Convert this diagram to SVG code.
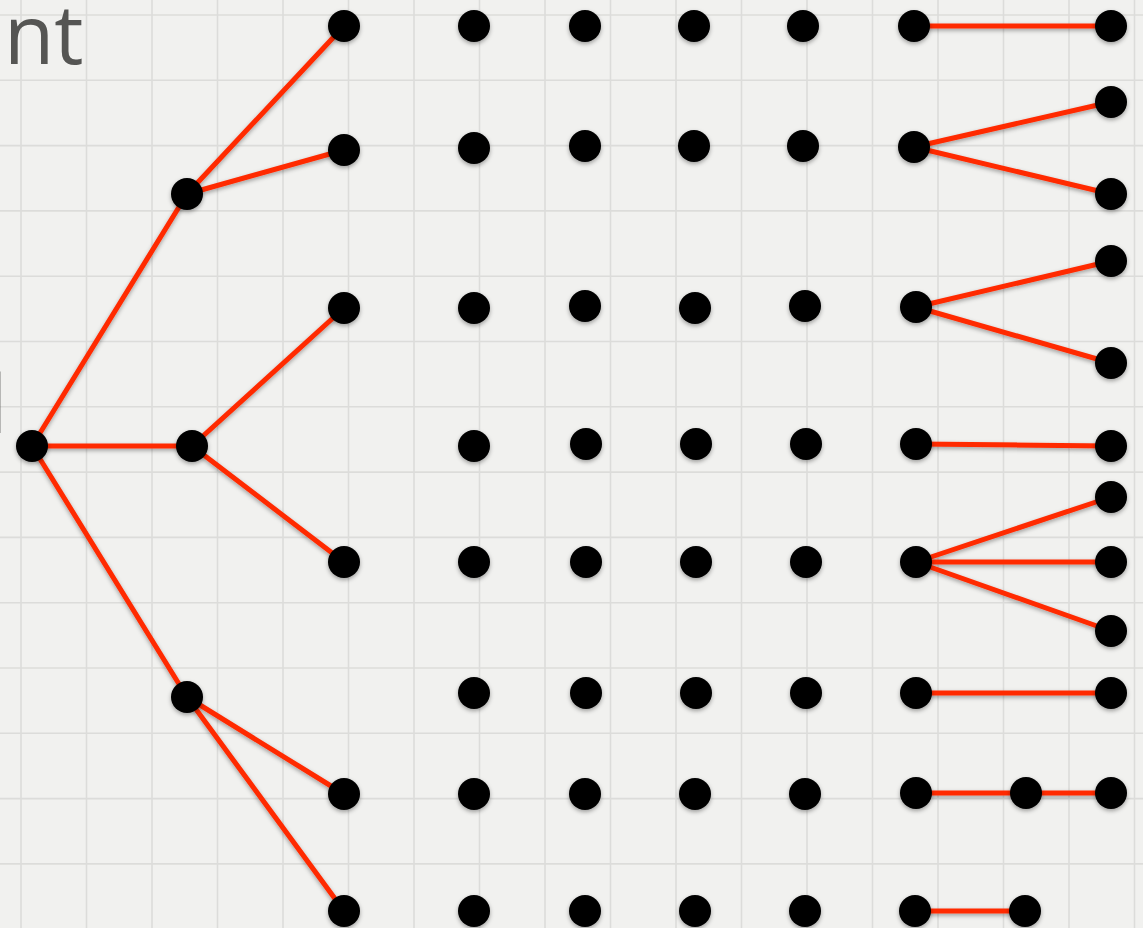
<svg xmlns="http://www.w3.org/2000/svg" width="1143" height="928" viewBox="0 0 1143 928">
<style>
.bg{fill:#f1f1ef}
.grid line{stroke:#dcdcda;stroke-width:1.6}
.edges line{stroke:#ff2a00;stroke-width:5;stroke-linecap:round}
.node circle{fill:#000}
.lbl{font-family:"Open Sans","Liberation Sans",sans-serif;fill:#555553}
</style>
<defs>
<filter id="sh" x="-30%" y="-30%" width="160%" height="170%">
<feDropShadow dx="0" dy="2" stdDeviation="2" flood-color="#000" flood-opacity="0.35"/>
</filter>
</defs>
<rect class="bg" x="0" y="0" width="1143" height="928"/>
<g class="grid">
<line x1="21" y1="0" x2="21" y2="928"/>
<line x1="86.5" y1="0" x2="86.5" y2="928"/>
<line x1="152" y1="0" x2="152" y2="928"/>
<line x1="217.5" y1="0" x2="217.5" y2="928"/>
<line x1="283" y1="0" x2="283" y2="928"/>
<line x1="348.5" y1="0" x2="348.5" y2="928"/>
<line x1="414" y1="0" x2="414" y2="928"/>
<line x1="479.5" y1="0" x2="479.5" y2="928"/>
<line x1="545" y1="0" x2="545" y2="928"/>
<line x1="610.5" y1="0" x2="610.5" y2="928"/>
<line x1="676" y1="0" x2="676" y2="928"/>
<line x1="741.5" y1="0" x2="741.5" y2="928"/>
<line x1="807" y1="0" x2="807" y2="928"/>
<line x1="872.5" y1="0" x2="872.5" y2="928"/>
<line x1="938" y1="0" x2="938" y2="928"/>
<line x1="1003.5" y1="0" x2="1003.5" y2="928"/>
<line x1="1069" y1="0" x2="1069" y2="928"/>
<line x1="1134.5" y1="0" x2="1134.5" y2="928"/>
<line x1="0" y1="15" x2="1143" y2="15"/>
<line x1="0" y1="80.3" x2="1143" y2="80.3"/>
<line x1="0" y1="145.6" x2="1143" y2="145.6"/>
<line x1="0" y1="210.9" x2="1143" y2="210.9"/>
<line x1="0" y1="276.2" x2="1143" y2="276.2"/>
<line x1="0" y1="341.5" x2="1143" y2="341.5"/>
<line x1="0" y1="406.8" x2="1143" y2="406.8"/>
<line x1="0" y1="472.1" x2="1143" y2="472.1"/>
<line x1="0" y1="537.4" x2="1143" y2="537.4"/>
<line x1="0" y1="602.7" x2="1143" y2="602.7"/>
<line x1="0" y1="668" x2="1143" y2="668"/>
<line x1="0" y1="733.3" x2="1143" y2="733.3"/>
<line x1="0" y1="798.6" x2="1143" y2="798.6"/>
<line x1="0" y1="863.9" x2="1143" y2="863.9"/>
</g>
<text class="lbl" x="4" y="64" font-size="82">nt</text>
<text class="lbl" x="-13" y="433" font-size="80">l</text>
<g class="edges" filter="url(#sh)">
<line x1="32" y1="446" x2="187" y2="194"/>
<line x1="32" y1="446" x2="192" y2="446"/>
<line x1="32" y1="446" x2="187" y2="697"/>
<line x1="187" y1="194" x2="344" y2="26"/>
<line x1="187" y1="194" x2="344" y2="150"/>
<line x1="192" y1="446" x2="344" y2="308"/>
<line x1="192" y1="446" x2="344" y2="562"/>
<line x1="187" y1="697" x2="344" y2="794"/>
<line x1="187" y1="697" x2="344" y2="911"/>
<line x1="914" y1="26" x2="1111" y2="26"/>
<line x1="914" y1="147" x2="1111" y2="102"/>
<line x1="914" y1="147" x2="1111" y2="194"/>
<line x1="916" y1="307" x2="1111" y2="261"/>
<line x1="916" y1="307" x2="1111" y2="363"/>
<line x1="916" y1="444" x2="1111" y2="446"/>
<line x1="916" y1="562" x2="1111" y2="497"/>
<line x1="916" y1="562" x2="1111" y2="562"/>
<line x1="916" y1="562" x2="1111" y2="631"/>
<line x1="916" y1="693" x2="1111" y2="693"/>
<line x1="916" y1="793" x2="1026" y2="793"/>
<line x1="1026" y1="793" x2="1111" y2="793"/>
<line x1="915" y1="911" x2="1025" y2="911"/>
</g>
<g class="node" filter="url(#sh)">
<g id="n-root"><circle cx="32" cy="446" r="16"/></g>
<g id="n-b1"><circle cx="187" cy="194" r="16"/></g>
<g id="n-b2"><circle cx="192" cy="446" r="16"/></g>
<g id="n-b3"><circle cx="187" cy="697" r="16"/></g>
<g id="n-c2-1"><circle cx="344" cy="26" r="16"/></g>
<g id="n-c2-2"><circle cx="344" cy="150" r="16"/></g>
<g id="n-c2-3"><circle cx="344" cy="308" r="16"/></g>
<g id="n-c2-4"><circle cx="344" cy="562" r="16"/></g>
<g id="n-c2-5"><circle cx="344" cy="794" r="16"/></g>
<g id="n-c2-6"><circle cx="344" cy="911" r="16"/></g>
<g id="n-c3-1"><circle cx="474" cy="26" r="16"/></g>
<g id="n-c3-2"><circle cx="474" cy="148" r="16"/></g>
<g id="n-c3-3"><circle cx="474" cy="308" r="16"/></g>
<g id="n-c3-4"><circle cx="474" cy="446" r="16"/></g>
<g id="n-c3-5"><circle cx="474" cy="562" r="16"/></g>
<g id="n-c3-6"><circle cx="474" cy="693" r="16"/></g>
<g id="n-c3-7"><circle cx="474" cy="794" r="16"/></g>
<g id="n-c3-8"><circle cx="474" cy="911" r="16"/></g>
<g id="n-c4-1"><circle cx="585" cy="26" r="16"/></g>
<g id="n-c4-2"><circle cx="585" cy="146" r="16"/></g>
<g id="n-c4-3"><circle cx="585" cy="306" r="16"/></g>
<g id="n-c4-4"><circle cx="586" cy="444" r="16"/></g>
<g id="n-c4-5"><circle cx="586" cy="562" r="16"/></g>
<g id="n-c4-6"><circle cx="586" cy="693" r="16"/></g>
<g id="n-c4-7"><circle cx="585" cy="794" r="16"/></g>
<g id="n-c4-8"><circle cx="585" cy="911" r="16"/></g>
<g id="n-c5-1"><circle cx="694" cy="26" r="16"/></g>
<g id="n-c5-2"><circle cx="694" cy="146" r="16"/></g>
<g id="n-c5-3"><circle cx="695" cy="308" r="16"/></g>
<g id="n-c5-4"><circle cx="696" cy="444" r="16"/></g>
<g id="n-c5-5"><circle cx="696" cy="562" r="16"/></g>
<g id="n-c5-6"><circle cx="696" cy="693" r="16"/></g>
<g id="n-c5-7"><circle cx="695" cy="794" r="16"/></g>
<g id="n-c5-8"><circle cx="695" cy="911" r="16"/></g>
<g id="n-c6-1"><circle cx="803" cy="26" r="16"/></g>
<g id="n-c6-2"><circle cx="803" cy="146" r="16"/></g>
<g id="n-c6-3"><circle cx="805" cy="306" r="16"/></g>
<g id="n-c6-4"><circle cx="806" cy="444" r="16"/></g>
<g id="n-c6-5"><circle cx="806" cy="562" r="16"/></g>
<g id="n-c6-6"><circle cx="806" cy="693" r="16"/></g>
<g id="n-c6-7"><circle cx="805" cy="794" r="16"/></g>
<g id="n-c6-8"><circle cx="805" cy="911" r="16"/></g>
<g id="n-c7-1"><circle cx="914" cy="26" r="16"/></g>
<g id="n-c7-2"><circle cx="914" cy="147" r="16"/></g>
<g id="n-c7-3"><circle cx="916" cy="307" r="16"/></g>
<g id="n-c7-4"><circle cx="916" cy="444" r="16"/></g>
<g id="n-c7-5"><circle cx="916" cy="562" r="16"/></g>
<g id="n-c7-6"><circle cx="916" cy="693" r="16"/></g>
<g id="n-c7-7"><circle cx="916" cy="793" r="16"/></g>
<g id="n-c7-8"><circle cx="915" cy="911" r="16"/></g>
<g id="n-m1"><circle cx="1026" cy="793" r="16"/></g>
<g id="n-m2"><circle cx="1025" cy="911" r="16"/></g>
<g id="n-c8-1"><circle cx="1111" cy="26" r="16"/></g>
<g id="n-c8-2"><circle cx="1111" cy="102" r="16"/></g>
<g id="n-c8-3"><circle cx="1111" cy="194" r="16"/></g>
<g id="n-c8-4"><circle cx="1111" cy="261" r="16"/></g>
<g id="n-c8-5"><circle cx="1111" cy="363" r="16"/></g>
<g id="n-c8-6"><circle cx="1111" cy="446" r="16"/></g>
<g id="n-c8-7"><circle cx="1111" cy="497" r="16"/></g>
<g id="n-c8-8"><circle cx="1111" cy="562" r="16"/></g>
<g id="n-c8-9"><circle cx="1111" cy="631" r="16"/></g>
<g id="n-c8-10"><circle cx="1111" cy="693" r="16"/></g>
<g id="n-c8-11"><circle cx="1111" cy="793" r="16"/></g>
</g>
</svg>
